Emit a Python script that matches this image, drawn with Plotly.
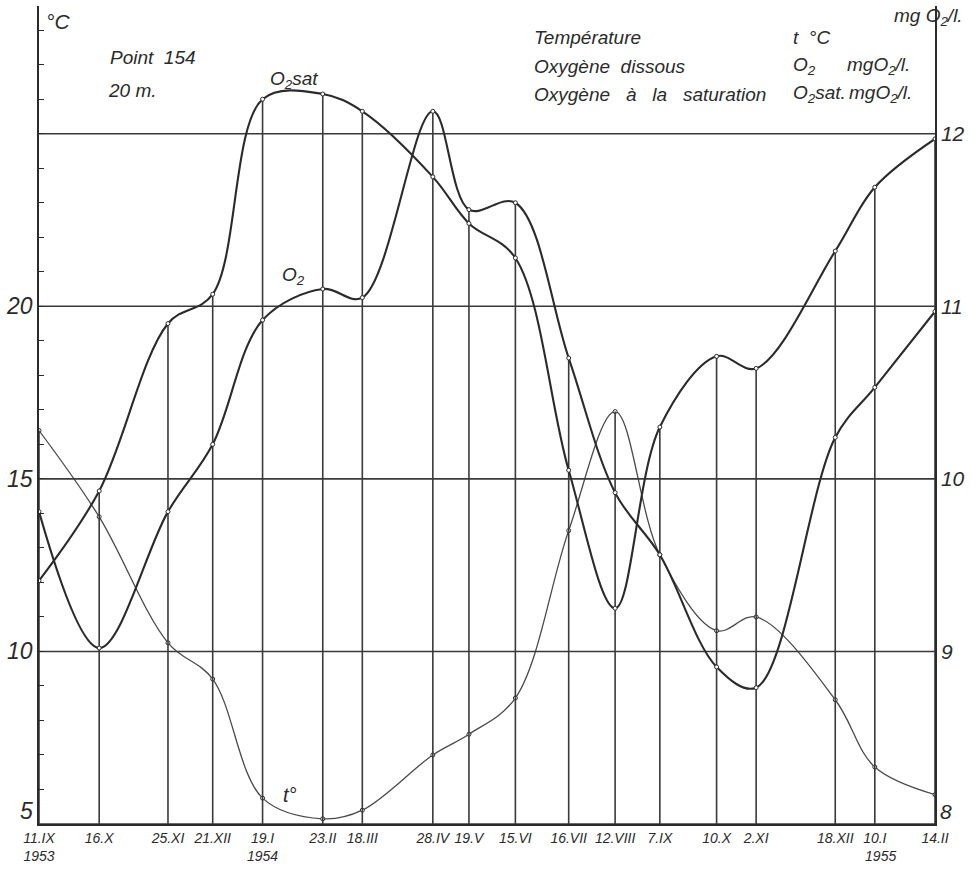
import plotly.graph_objects as go

# ---------------- data ----------------
dates = ["1953-09-11", "1953-10-16", "1953-11-25", "1953-12-21", "1954-01-19", "1954-02-23",
         "1954-03-18", "1954-04-28", "1954-05-19", "1954-06-15", "1954-07-16", "1954-08-12",
         "1954-09-07", "1954-10-10", "1954-11-02", "1954-12-18", "1955-01-10", "1955-02-14"]
date_labels = ["11.IX<br>1953", "16.X", "25.XI", "21.XII", "19.I<br>1954", "23.II", "18.III",
               "28.IV", "19.V", "15.VI", "16.VII", "12.VIII", "7.IX", "10.X", "2.XI", "18.XII",
               "10.I<br>   1955", "14.II"]
temp_c = [16.4, 13.9, 10.25, 9.2, 5.75, 5.15, 5.4, 7.0, 7.6, 8.65, 13.5, 16.95,
          12.8, 10.6, 11.0, 8.6, 6.65, 5.85]
o2 = [9.81, 9.02, 9.81, 10.2, 10.92, 11.1, 11.05, 12.13, 11.56, 11.6, 10.7, 9.92,
      9.56, 8.91, 8.79, 10.24, 10.53, 10.97]
o2_sat = [9.41, 9.93, 10.9, 11.07, 12.2, 12.23, 12.13, 11.75, 11.48, 11.28, 10.05, 9.25,
          10.3, 10.71, 10.64, 11.32, 11.69, 11.97]
temp_ticks = [10, 15, 20]          # "5" is written just above the baseline
o2_ticks = [9, 10, 11, 12]         # "8" is written just above the baseline
o2_grid = [8, 9, 10, 11, 12]

# ---------------- styling ----------------
INK = "#2b2b2b"
GRID = "#3a3a3a"
FONT = "Liberation Sans"
T_RANGE = [5, 28.7]
O_RANGE = [8, 8 + (T_RANGE[1] - T_RANGE[0]) / 5]

def t_on_o2(t):
    return O_RANGE[0] + (t - T_RANGE[0]) / 5

fig = go.Figure()

# horizontal rulings (on the O2 scale) drawn as a trace so labels can be set apart
hx, hy = [], []
for g in o2_grid:
    hx += [dates[0], dates[-1], None]
    hy += [g, g, None]
fig.add_trace(go.Scatter(x=hx, y=hy, yaxis="y2", mode="lines",
                         line=dict(color=GRID, width=1.6), hoverinfo="skip"))

# vertical drop lines at every sampling date (up to the highest curve)
vx, vy = [], []
for d, t, a, b in zip(dates, temp_c, o2, o2_sat):
    vx += [d, d, None]
    vy += [O_RANGE[0], max(t_on_o2(t), a, b), None]
fig.add_trace(go.Scatter(x=vx, y=vy, yaxis="y2", mode="lines",
                         line=dict(color=GRID, width=1.6), hoverinfo="skip"))

mk = dict(size=4, color="white", line=dict(color=INK, width=1))
fig.add_trace(go.Scatter(x=dates, y=temp_c, name="t", mode="lines+markers", yaxis="y",
                         line=dict(color="#4a4a4a", width=1.3, shape="spline", smoothing=1.0),
                         marker=mk))
fig.add_trace(go.Scatter(x=dates, y=o2, name="O2", mode="lines+markers", yaxis="y2",
                         line=dict(color=INK, width=2.1, shape="spline", smoothing=1.0),
                         marker=mk))
fig.add_trace(go.Scatter(x=dates, y=o2_sat, name="O2 sat", mode="lines+markers", yaxis="y2",
                         line=dict(color=INK, width=2.1, shape="spline", smoothing=1.0),
                         marker=mk))

fig.update_layout(
    width=971, height=870,
    margin=dict(l=37, r=34, t=6, b=46),
    paper_bgcolor="white", plot_bgcolor="white",
    showlegend=False,
    font=dict(family=FONT, color=INK, size=14, style="italic"),
    xaxis=dict(type="date", range=[dates[0], dates[-1]], tickvals=dates, ticktext=date_labels,
               tickangle=0, showgrid=False, zeroline=False, showline=True, linecolor=INK,
               linewidth=2, ticks="", tickfont=dict(family=FONT, size=14, color=INK, style="italic")),
    yaxis=dict(range=T_RANGE, tickvals=temp_ticks, showgrid=False, zeroline=False,
               showline=True, linecolor=INK, linewidth=1.5, ticks="",
               tickfont=dict(family=FONT, size=23, color=INK, style="italic"),
               minor=dict(tickmode="linear", tick0=5, dtick=1, ticks="inside", ticklen=5,
                          tickcolor=INK, tickwidth=1, showgrid=False)),
    yaxis2=dict(range=O_RANGE, tickvals=o2_ticks, overlaying="y", side="right",
                showgrid=False, zeroline=False,
                showline=True, linecolor=INK, linewidth=1.5, ticks="",
                tickfont=dict(family=FONT, size=21, color=INK, style="italic")),
)

def px(xp):
    return (xp - 37) / 900

def py(yp):
    return (824 - yp) / 818

def note(text, xpix, ypix, size=19, anchor="left"):
    fig.add_annotation(text=text, x=px(xpix), y=py(ypix), xref="paper", yref="paper",
                       xanchor=anchor, yanchor="middle", showarrow=False,
                       font=dict(family=FONT, size=size, color=INK, style="italic"))

# baseline axis values, written just above the bottom ruling as in the reference
note("5", 33, 811, size=23, anchor="right")
note("8", 940, 811, size=21, anchor="left")

note("°C", 42, 22, size=21)
note("Point  154", 106, 57, size=19)
note("20 m.", 104, 90, size=19)
note("O<sub>2</sub>sat", 267, 80, size=19)
note("O<sub>2</sub>", 279, 276, size=19)
note("t°", 280, 795, size=20)

note("Température", 532, 38)
note("Oxygène  dissous", 532, 66)
note("Oxygène   à   la   saturation", 532, 94)
note("t  °C", 792, 38)
note("O<sub>2</sub>", 792, 66)
note("mgO<sub>2</sub>/l.", 847, 66)
note("O<sub>2</sub>sat.", 792, 94)
note("mgO<sub>2</sub>/l.", 849, 94)
note("mg O<sub>2</sub>/l.", 894, 17)

fig.write_html("out.html")
